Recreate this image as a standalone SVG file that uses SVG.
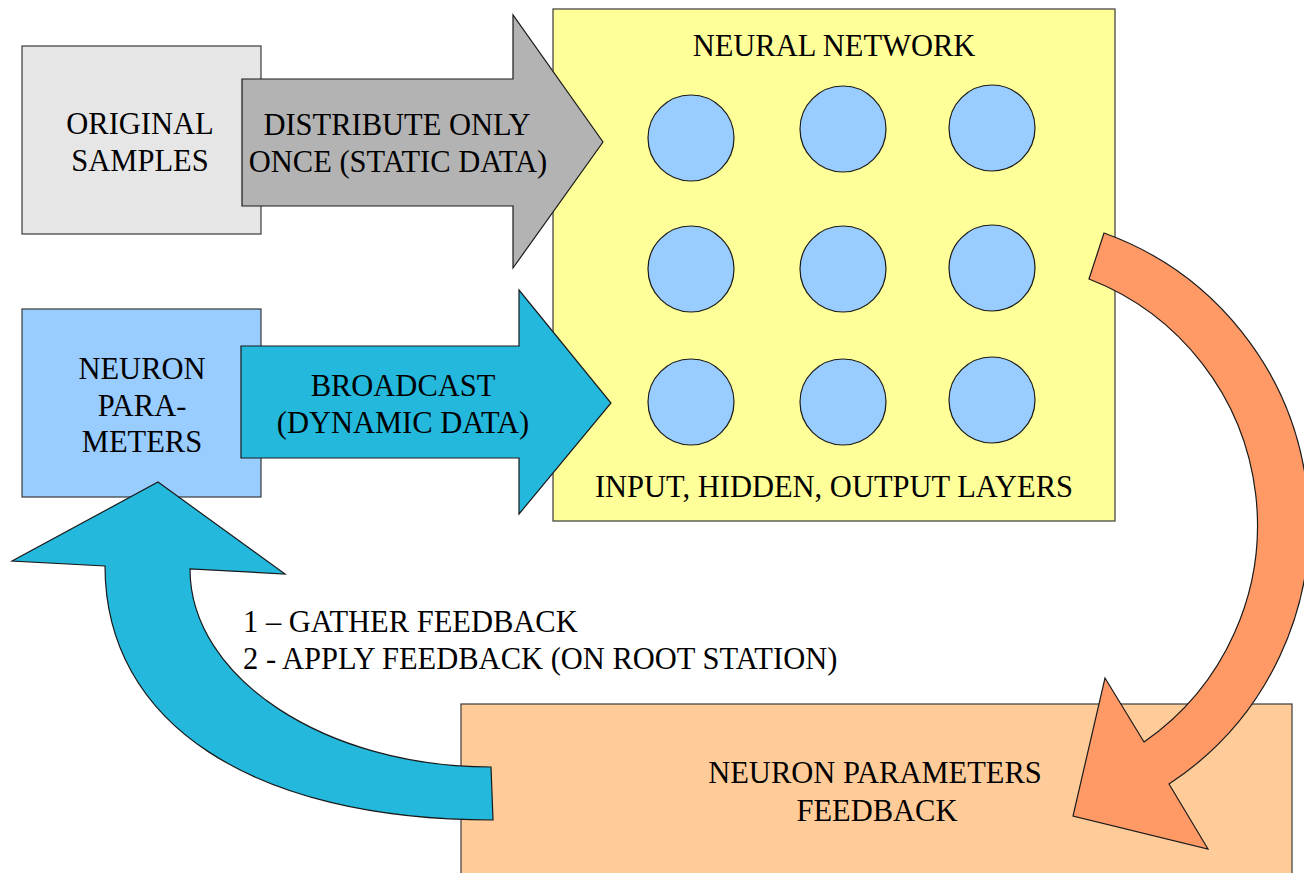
<svg xmlns="http://www.w3.org/2000/svg" width="1304" height="873" viewBox="0 0 1304 873">
<style>
  .box { stroke: #3a3a3a; stroke-width: 1.2; }
  .shape { stroke: #1a1a1a; stroke-width: 1.2; stroke-linejoin: miter; }
  .neuron { fill: #99ccff; stroke: #1a1a1a; stroke-width: 1.2; }
  text { font-family: "Liberation Serif", "Times New Roman", serif; font-size: 30.5px; fill: #000; }
  .c { text-anchor: middle; }
</style>
<rect width="1304" height="873" fill="#ffffff"/>

<g id="original-samples">
  <rect class="box" x="22" y="46" width="239" height="188" fill="#e6e6e6"/>
  <text class="c" x="140" y="134">ORIGINAL</text>
  <text class="c" x="140" y="171">SAMPLES</text>
</g>

<g id="neuron-parameters">
  <rect class="box" x="22" y="309" width="239" height="188" fill="#99ccff"/>
  <text class="c" x="142" y="379">NEURON</text>
  <text class="c" x="142" y="416">PARA-</text>
  <text class="c" x="142" y="452">METERS</text>
</g>

<g id="neural-network">
  <rect class="box" x="553" y="9" width="562" height="512" fill="#ffff99"/>
  <text class="c" x="834" y="56">NEURAL NETWORK</text>
  <circle class="neuron" cx="691" cy="138" r="43"/>
  <circle class="neuron" cx="843" cy="129" r="43"/>
  <circle class="neuron" cx="992" cy="128" r="43"/>
  <circle class="neuron" cx="691" cy="269" r="43"/>
  <circle class="neuron" cx="843" cy="269" r="43"/>
  <circle class="neuron" cx="992" cy="268" r="43"/>
  <circle class="neuron" cx="691" cy="402" r="43"/>
  <circle class="neuron" cx="843" cy="402" r="43"/>
  <circle class="neuron" cx="992" cy="400" r="43"/>
  <text class="c" x="834" y="497">INPUT, HIDDEN, OUTPUT LAYERS</text>
</g>

<g id="neuron-parameters-feedback">
  <rect class="box" x="461" y="704" width="831" height="180" fill="#ffcc99"/>
  <text class="c" x="875" y="783">NEURON PARAMETERS</text>
  <text class="c" x="877" y="821">FEEDBACK</text>
</g>

<g id="connectors">
  <g id="distribute-arrow">
    <path class="shape" fill="#b3b3b3" d="M242,79 L513,79 L513,15 L603,142 L513,268 L513,206 L242,206 Z"/>
    <text class="c" x="397" y="135">DISTRIBUTE ONLY</text>
    <text class="c" x="398" y="172">ONCE (STATIC DATA)</text>
  </g>
  <g id="broadcast-arrow">
    <path class="shape" fill="#23b8dc" d="M241,346 L519,346 L519,290 L611,403 L519,514 L519,458 L241,458 Z"/>
    <text class="c" x="403" y="396">BROADCAST</text>
    <text class="c" x="403" y="433">(DYNAMIC DATA)</text>
  </g>
  <g id="output-arrow">
    <path class="shape" fill="#ff9966" d="M1104,233 A310,310 0 0 1 1169,784 L1208,849 L1073,816 L1105,678 L1144,742 A264,264 0 0 0 1089,279 Z"/>
  </g>
  <g id="feedback-arrow">
    <path class="shape" fill="#23b8dc" d="M493,820 C252,820 105,723 105,566 L12,561 L158,482 L285,574 L190,569 C190,678 325.5,767 491,767 Z"/>
  </g>
</g>

<g id="feedback-steps">
  <text x="243" y="632">1 – GATHER FEEDBACK</text>
  <text x="243" y="669">2 - APPLY FEEDBACK (ON ROOT STATION)</text>
</g>
</svg>
